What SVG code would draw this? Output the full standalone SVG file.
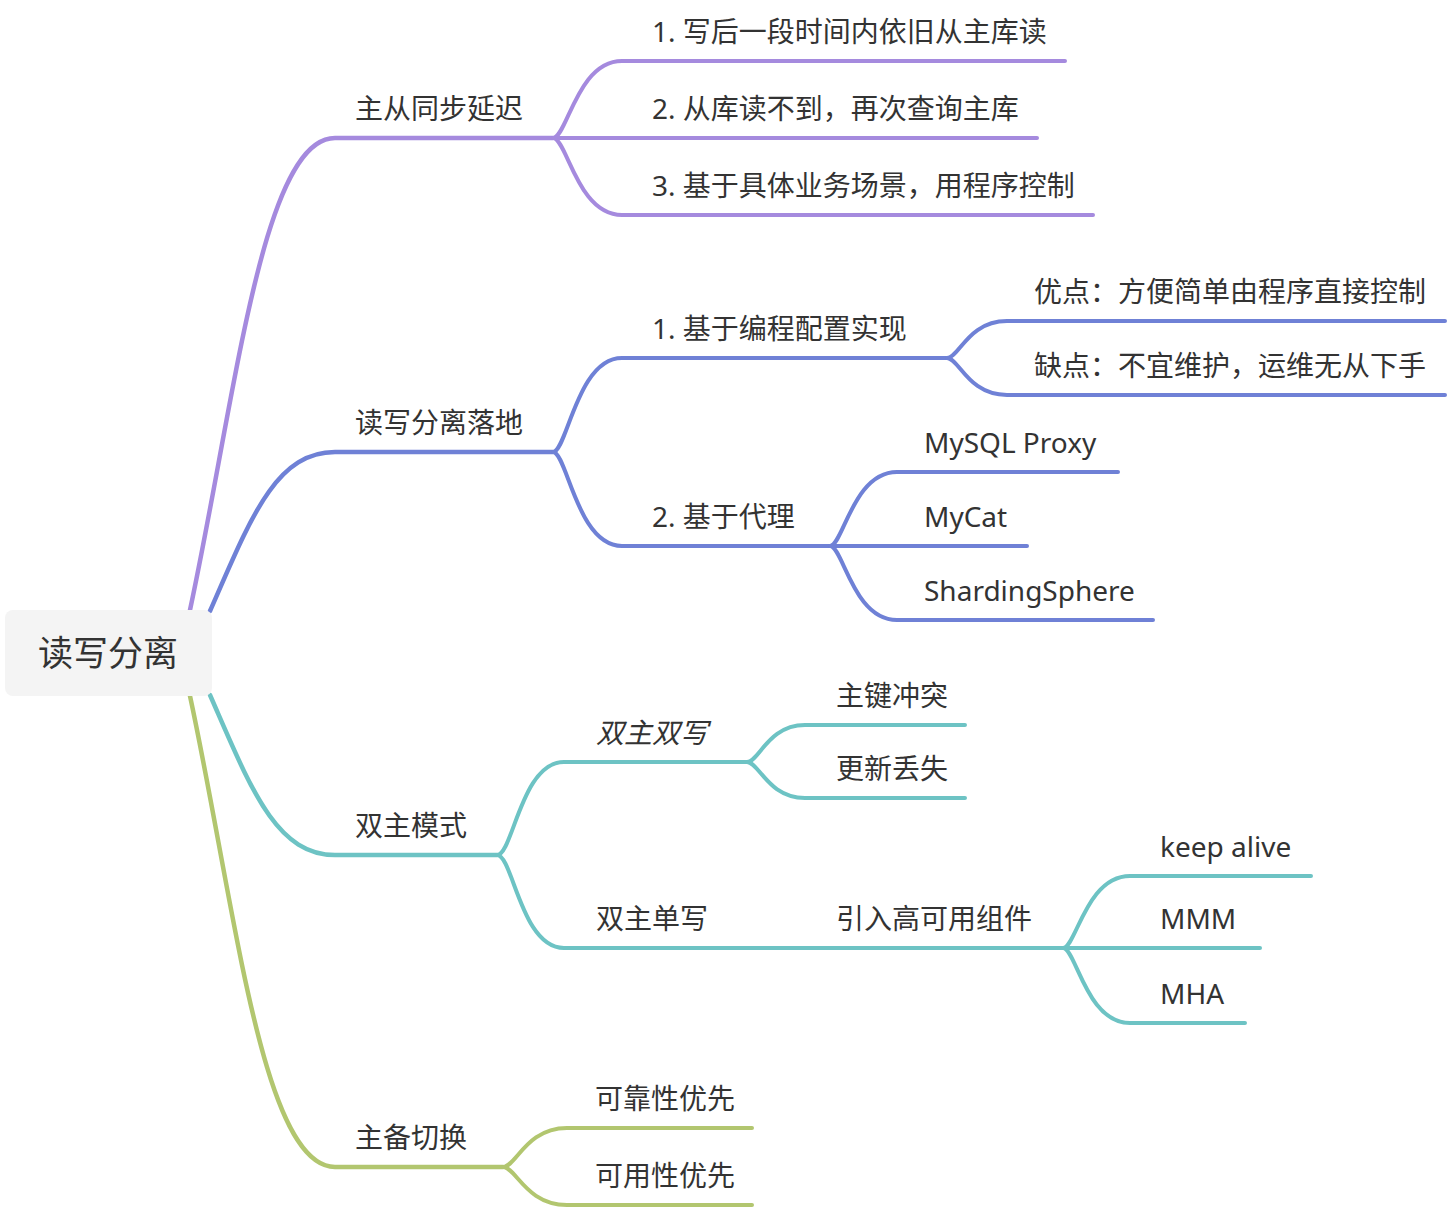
<svg xmlns="http://www.w3.org/2000/svg" width="1448" height="1210" viewBox="0 0 1448 1210">
<style>
text{font-family:"Noto Sans","Noto Sans CJK SC",sans-serif;font-size:28px;fill:#333}
.root{font-size:35px}
.it{font-style:italic}
.c{fill:none;stroke-width:4;stroke-linecap:round;stroke-linejoin:round}
.r{stroke-width:4.5}
.p{stroke:#a58ade}
.b{stroke:#6f81d6}
.t{stroke:#6dc3c4}
.g{stroke:#b2c66f}
</style>
<rect width="1448" height="1210" fill="#fff"/>
<g id="connectors">
<path class="c r p" d="M190,610 C235,400 262,138 335,138 H553"/>
<path class="c p" d="M553,138 C567,138 577,61 622,61 H1065"/>
<path class="c p" d="M553,138 H1037"/>
<path class="c p" d="M553,138 C567,138 577,215 622,215 H1093"/>
<path class="c r b" d="M210,611 C250,520 275,452 335,452 H553"/>
<path class="c b" d="M553,452 C567,452 577,358 622,358 H947"/>
<path class="c b" d="M947,358 C959,358 968,321 1007,321 H1445"/>
<path class="c b" d="M947,358 C959,358 968,395 1007,395 H1445"/>
<path class="c b" d="M553,452 C567,452 577,546 622,546 H830"/>
<path class="c b" d="M830,546 C843,546 853,472 897,472 H1118"/>
<path class="c b" d="M830,546 H1027"/>
<path class="c b" d="M830,546 C843,546 853,620 897,620 H1153"/>
<path class="c r t" d="M210,695 C250,786 275,855 335,855 H497"/>
<path class="c t" d="M497,855 C513,855 521,762 564,762 H747"/>
<path class="c t" d="M747,762 C759,762 768,725 805,725 H965"/>
<path class="c t" d="M747,762 C759,762 768,798 805,798 H965"/>
<path class="c t" d="M497,855 C513,855 521,948 564,948 H1063"/>
<path class="c t" d="M1063,948 C1076,948 1086,876 1130,876 H1311"/>
<path class="c t" d="M1063,948 H1260"/>
<path class="c t" d="M1063,948 C1076,948 1086,1023 1130,1023 H1245"/>
<path class="c r g" d="M190,696 C235,906 262,1167 335,1167 H503"/>
<path class="c g" d="M503,1167 C516,1167 526,1128 567,1128 H752"/>
<path class="c g" d="M503,1167 C516,1167 526,1205 567,1205 H752"/>
</g>
<g id="root"><rect x="5" y="610" width="207" height="86" rx="8" fill="#f4f4f4"/><text class="root" x="108" y="666" text-anchor="middle">读写分离</text></g>
<g id="n1"><text x="355" y="119">主从同步延迟</text></g>
<g id="n1-1"><text x="652" y="42">1. 写后一段时间内依旧从主库读</text></g>
<g id="n1-2"><text x="652" y="119">2. 从库读不到，再次查询主库</text></g>
<g id="n1-3"><text x="652" y="196">3. 基于具体业务场景，用程序控制</text></g>
<g id="n2"><text x="355" y="433">读写分离落地</text></g>
<g id="n2-1"><text x="652" y="339">1. 基于编程配置实现</text></g>
<g id="n2-1-1"><text x="1034" y="302">优点：方便简单由程序直接控制</text></g>
<g id="n2-1-2"><text x="1034" y="376">缺点：不宜维护，运维无从下手</text></g>
<g id="n2-2"><text x="652" y="527">2. 基于代理</text></g>
<g id="n2-2-1"><text x="924" y="453">MySQL Proxy</text></g>
<g id="n2-2-2"><text x="924" y="527">MyCat</text></g>
<g id="n2-2-3"><text x="924" y="601">ShardingSphere</text></g>
<g id="n3"><text x="355" y="836">双主模式</text></g>
<g id="n3-1"><text class="it" x="596" y="743">双主双写</text></g>
<g id="n3-1-1"><text x="836" y="706">主键冲突</text></g>
<g id="n3-1-2"><text x="836" y="779">更新丢失</text></g>
<g id="n3-2"><text x="596" y="929">双主单写</text></g>
<g id="n3-2-1"><text x="836" y="929">引入高可用组件</text></g>
<g id="n3-2-1-1"><text x="1160" y="857">keep alive</text></g>
<g id="n3-2-1-2"><text x="1160" y="929">MMM</text></g>
<g id="n3-2-1-3"><text x="1160" y="1004">MHA</text></g>
<g id="n4"><text x="355" y="1148">主备切换</text></g>
<g id="n4-1"><text x="595" y="1109">可靠性优先</text></g>
<g id="n4-2"><text x="595" y="1186">可用性优先</text></g>
</svg>
